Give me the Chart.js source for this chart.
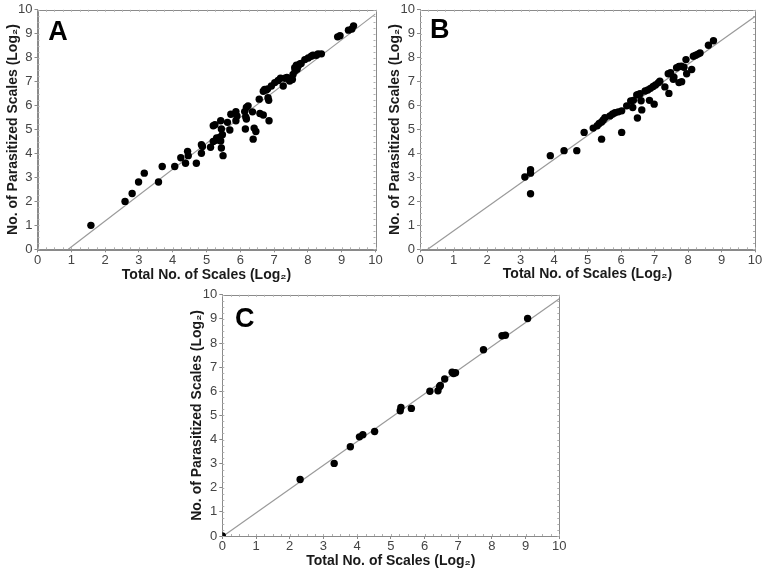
<!DOCTYPE html>
<html><head><meta charset="utf-8">
<script src="https://cdn.jsdelivr.net/npm/chart.js@4"></script>
<style>
html,body{margin:0;padding:0;background:#fff;}
body{width:771px;height:571px;position:relative;overflow:hidden;}
canvas{position:absolute;}
</style></head>
<body>
<canvas id="ca" width="385" height="285" style="left:0px;top:0px;width:385px;height:285px"></canvas>
<canvas id="cb" width="386" height="285" style="left:385px;top:0px;width:386px;height:285px"></canvas>
<canvas id="cc" width="400" height="286" style="left:180px;top:285px;width:400px;height:286px"></canvas>
<script>
// ---- Data (log2 values) ----
const axisTicks = [0,1,2,3,4,5,6,7,8,9,10];
const xTitle = 'Total No. of Scales (Log₂)';
const yTitle = 'No. of Parasitized Scales (Log₂)';

const aX = [1.58,2.59,2.80,2.99,3.16,3.58,3.69,4.06,4.24,4.38,4.44,4.46,4.70,4.85,4.88,4.85,5.12,5.20,5.25,5.20,5.28,5.35,5.30,5.42,5.39,5.42,5.44,5.44,5.49,5.47,5.62,5.69,5.72,5.87,5.90,5.87,6.13,6.18,6.23,6.16,6.18,6.15,6.36,6.38,6.41,6.46,6.58,6.68,6.56,6.85,6.68,6.72,6.77,6.81,6.82,6.84,6.92,7.02,7.12,7.19,7.27,7.32,7.38,7.46,7.54,7.56,7.62,7.68,7.61,7.66,7.71,7.76,7.80,7.91,8.01,8.10,8.15,8.25,8.30,8.40,8.88,8.95,9.20,9.30,9.35];
const aY = [1.00,2.00,2.33,2.81,3.18,2.81,3.46,3.46,3.82,3.59,4.09,3.91,3.59,4.37,4.29,4.01,4.26,5.16,5.20,4.50,4.55,4.60,4.65,4.52,4.67,5.37,5.02,4.23,3.91,4.78,5.30,4.98,5.64,5.75,5.57,5.37,5.75,5.92,5.99,5.53,5.44,5.02,5.74,4.60,5.06,4.92,5.67,5.61,6.27,5.37,6.60,6.67,6.65,6.70,6.33,6.22,6.82,6.96,7.05,7.14,6.82,7.14,7.18,7.03,7.09,7.30,7.45,7.52,7.58,7.69,7.65,7.74,7.76,7.92,7.99,8.06,8.10,8.10,8.16,8.16,8.87,8.92,9.15,9.20,9.33];

const bX = [3.13,3.30,3.30,3.30,3.89,4.30,4.68,4.90,5.17,5.29,5.35,5.42,5.47,5.52,5.42,5.67,5.75,5.82,5.92,6.02,6.02,6.17,6.29,6.37,6.35,6.47,6.52,6.57,6.49,6.60,6.62,6.72,6.80,6.88,6.96,7.03,7.11,6.85,6.99,7.16,7.31,7.41,7.48,7.43,7.56,7.58,7.66,7.73,7.80,7.88,7.73,7.81,7.94,7.96,8.11,8.16,8.23,8.30,8.36,8.61,8.76];
const bY = [3.02,3.32,3.18,2.32,3.91,4.12,4.12,4.88,5.06,5.16,5.25,5.32,5.40,5.49,4.60,5.57,5.65,5.70,5.74,5.78,4.88,5.99,6.19,6.22,5.92,6.44,6.47,6.50,5.48,6.20,5.82,6.61,6.65,6.72,6.80,6.86,6.95,6.22,6.06,7.02,6.78,7.33,7.37,6.51,7.10,7.19,7.58,7.63,7.65,7.60,6.96,7.00,7.92,7.33,7.51,8.06,8.10,8.15,8.20,8.52,8.71];

const cX = [0.00,2.31,3.32,3.80,4.07,4.17,4.52,5.28,5.30,5.61,6.16,6.40,6.45,6.47,6.60,6.82,6.86,6.92,7.75,8.30,8.40,9.06];
const cY = [0.00,2.34,3.01,3.70,4.11,4.20,4.33,5.19,5.33,5.29,6.00,6.02,6.20,6.24,6.51,6.79,6.74,6.77,7.72,8.30,8.32,9.02];

// regression line end points (x where y=0, and y at x=10)
const aFitX = [0.91, 10], aFitY = [0, 9.83];
const bFitX = [0.23, 10], bFitY = [0, 9.72];
const cFitX = [0.03, 10], cFitY = [0, 9.84];

const FONT = "'Liberation Sans Narrow','Liberation Sans',Arial,sans-serif";

function pts(xs, ys){ return xs.map((x,i)=>({x:x, y:ys[i]})); }

const framePlugin = {
  id:'frame',
  beforeDatasetsDraw(chart, args, opts){
    const a = chart.chartArea, ctx = chart.ctx;
    ctx.save();
    ctx.strokeStyle = '#8a8a8a';
    ctx.lineWidth = 1;
    ctx.strokeRect(Math.round(a.left)+0.5, Math.round(a.top)+0.5, Math.round(a.right-a.left), Math.round(a.bottom-a.top));
    const xs = chart.scales.x, ys = chart.scales.y;
    ctx.strokeStyle = '#b0b0b0';
    ctx.beginPath();
    for(let v=0; v<=10.001; v+=0.25){
      const px = Math.round(xs.getPixelForValue(v))+0.5;
      ctx.moveTo(px, a.top); ctx.lineTo(px, a.top+2);
      ctx.moveTo(px, a.bottom); ctx.lineTo(px, a.bottom-2);
      const py = Math.round(ys.getPixelForValue(v))+0.5;
      ctx.moveTo(a.left, py); ctx.lineTo(a.left+2, py);
      ctx.moveTo(a.right, py); ctx.lineTo(a.right-2, py);
    }
    ctx.stroke();
    ctx.restore();
  },
  afterDraw(chart, args, opts){
    const a = chart.chartArea, ctx = chart.ctx;
    ctx.save();
    ctx.fillStyle = '#000';
    ctx.font = "bold 27px 'Liberation Sans',Arial,sans-serif";
    ctx.textBaseline = 'alphabetic';
    ctx.textAlign = 'left';
    ctx.fillText(opts.letter, a.left + opts.dx, a.top + opts.dy);
    ctx.restore();
  }
};

function makePanel(id, letter, xs, ys, fx, fy, g){
  new Chart(document.getElementById(id), {
    type:'scatter',
    data:{ datasets:[
      { label:'fit', data: pts(fx, fy), showLine:true, borderColor:'#9a9a9a', borderWidth:1.2, pointRadius:0, fill:false, order:2, clip:0 },
      { label:'data', data: pts(xs, ys), pointRadius:3.7, pointBackgroundColor:'#000', pointBorderColor:'#000', pointBorderWidth:0, order:1, clip:0 }
    ]},
    options:{
      responsive:false, animation:false, devicePixelRatio:1,
      layout:{ autoPadding:false, padding:{ top:g.padTop, right:g.padRight, left:0, bottom:0 } },
      plugins:{ legend:{display:false}, tooltip:{enabled:false}, frame:{ letter:letter, dx:g.ldx, dy:g.ldy } },
      scales:{
        x:{ type:'linear', min:0, max:10,
            afterBuildTicks: s => { s.ticks = axisTicks.map(v=>({value:v})); },
            afterFit: s => { s.height = g.xh; },
            ticks:{ color:'#444', font:{family:FONT, size:13}, padding:0, maxRotation:0, autoSkip:false },
            grid:{ drawOnChartArea:false, drawTicks:true, tickLength:3, color:'#8a8a8a' },
            border:{ display:true, color:'#8a8a8a' },
            title:{ display:true, text:xTitle, color:'#1a1a1a', font:{family:FONT, size:14, weight:'bold'}, padding:{top:0, bottom:g.xtp} } },
        y:{ type:'linear', min:0, max:10,
            afterBuildTicks: s => { s.ticks = axisTicks.map(v=>({value:v})); },
            afterFit: s => { s.width = g.yw; },
            ticks:{ color:'#444', font:{family:FONT, size:13}, padding:2, autoSkip:false },
            grid:{ drawOnChartArea:false, drawTicks:true, tickLength:3, color:'#8a8a8a' },
            border:{ display:true, color:'#8a8a8a' },
            title:{ display:true, text:yTitle, color:'#1a1a1a', font:{family:FONT, size:14, weight:'bold'}, padding:{top:g.ytp, bottom:0} } }
      }
    },
    plugins:[framePlugin]
  });
}

makePanel('ca','A', aX, aY, aFitX, aFitY, {yw:37.5, xh:35.7, padTop:8.3, padRight:9.5, ytp:4.6, xtp:1.0, ldx:10.8, ldy:30});
makePanel('cb','B', bX, bY, bFitX, bFitY, {yw:35, xh:35.7, padTop:8.3, padRight:16, ytp:2.1, xtp:2.2, ldx:10, ldy:28.4});
makePanel('cc','C', cX, cY, cFitX, cFitY, {yw:42.3, xh:35, padTop:7.7, padRight:20.7, ytp:8.3, xtp:1.8, ldx:12.7, ldy:32});
</script>
</body></html>
